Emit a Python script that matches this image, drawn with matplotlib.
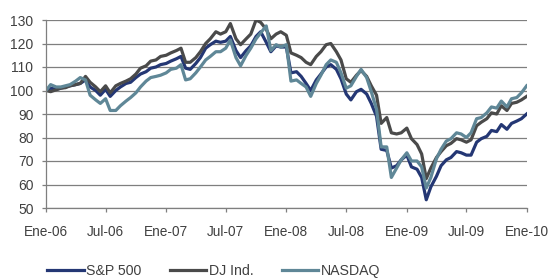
import matplotlib
matplotlib.use("Agg")
import matplotlib.pyplot as plt
import pandas as pd

# semi-monthly observation dates (1st and 15th), plus year end
dates = [f"{y}-{m:02d}-{d:02d}" for y in range(2006, 2010) for m in range(1, 13) for d in (1, 15)]
dates.append("2009-12-31")

sp500 = [
    # 2006
    100.0, 101.0, 100.5, 101.0, 101.5, 102.0, 102.5, 103.0, 104.5, 101.5, 100.0, 98.0,
    100.5, 97.5, 100.0, 101.5, 103.0, 103.5, 105.5, 107.0, 108.0, 109.5, 110.0, 111.0,
    # 2007
    111.5, 112.5, 113.5, 114.5, 109.5, 109.0, 111.5, 114.0, 118.0, 119.5, 121.0, 120.5,
    121.0, 123.0, 117.0, 114.0, 117.0, 119.0, 123.0, 125.0, 120.5, 116.5, 119.0, 118.5,
    # 2008
    118.5, 107.5, 108.0, 106.0, 103.0, 100.0, 104.5, 107.0, 110.0, 111.0, 109.0, 105.0,
    98.5, 96.0, 99.5, 100.5, 98.5, 94.5, 89.0, 75.0, 74.5, 67.0, 68.0, 70.5,
    # 2009
    72.5, 67.5, 66.5, 63.0, 53.5, 59.0, 63.5, 68.0, 70.5, 71.5, 74.0, 73.5,
    72.5, 72.5, 78.0, 79.5, 80.5, 83.0, 82.5, 85.5, 83.5, 86.0, 87.0, 88.0,
    90.0,
]

dj_ind = [
    # 2006
    100.0, 99.5, 100.3, 101.0, 101.2, 102.0, 102.5, 103.0, 106.0, 103.5, 101.5, 99.5,
    102.0, 99.0, 102.0, 103.0, 104.0, 105.0, 107.0, 109.5, 110.5, 112.5, 113.0, 114.5,
    # 2007
    115.0, 116.0, 117.0, 118.0, 112.0, 112.0, 114.0, 116.5, 120.0, 122.0, 125.0, 124.0,
    125.0, 128.5, 122.0, 119.5, 122.0, 124.0, 130.0, 129.0, 126.0, 122.0, 124.0, 125.0,
    # 2008
    123.5, 116.0, 115.0, 114.0, 112.0, 111.0, 114.5, 116.5, 119.5, 120.0, 116.5, 113.0,
    105.0, 103.5, 106.5, 108.5, 106.0, 102.0, 98.0, 86.0, 88.5, 82.0, 81.5, 82.0,
    # 2009
    84.0, 79.5, 77.0, 73.0, 62.5, 67.0, 71.5, 74.0, 76.5, 77.5, 79.5, 79.0,
    78.0, 79.0, 85.0, 86.5, 88.0, 90.5, 90.0, 93.5, 91.5, 94.5, 95.0, 96.0,
    97.5,
]

nasdaq = [
    # 2006
    100.0, 102.5, 101.5, 101.5, 102.0, 102.5, 104.0, 105.5, 104.5, 98.0, 96.0, 94.5,
    96.5, 91.5, 91.5, 93.5, 95.5, 97.0, 99.0, 101.5, 104.0, 105.5, 106.0, 106.5,
    # 2007
    107.5, 109.0, 109.5, 111.0, 104.5, 105.0, 107.5, 110.0, 113.0, 114.5, 116.5, 116.5,
    118.0, 121.5, 114.0, 110.5, 115.0, 118.0, 122.0, 124.5, 127.5, 117.0, 119.5, 118.5,
    # 2008
    119.5, 104.0, 104.5, 103.0, 101.5, 97.5, 103.0, 106.5, 111.0, 113.0, 112.0, 107.5,
    101.0, 102.0, 106.0, 109.0, 105.5, 99.5, 92.0, 76.0, 76.0, 63.0, 67.0, 70.5,
    # 2009
    73.5, 70.0, 70.0, 67.5, 58.5, 63.0, 71.0, 75.0, 78.5, 79.5, 82.0, 81.5,
    80.0, 82.0, 88.0, 88.5, 90.5, 93.0, 92.5, 95.5, 93.0, 96.5, 97.0, 99.0,
    102.0,
]

series_names = ["S&P 500", "DJ Ind.", "NASDAQ"]
series_colors = ["#243774", "#4a4a4a", "#5f8797"]
tick_labels = ["Ene-06", "Jul-06", "Ene-07", "Jul-07", "Ene-08", "Jul-08", "Ene-09", "Jul-09", "Ene-10"]
tick_dates = pd.to_datetime([f"{y}-{m:02d}-01" for y in range(2006, 2010) for m in (1, 7)] + ["2010-01-01"])

plt.rcParams["font.family"] = ["Liberation Sans", "DejaVu Sans"]

x = pd.to_datetime(dates)

fig = plt.figure(figsize=(5.52, 2.79), dpi=100)
ax = fig.add_axes([46 / 552, 1 - 208 / 279, 481 / 552, 188 / 279])

for vals, name, col in zip([sp500, dj_ind, nasdaq], series_names, series_colors):
    ax.plot(x, vals, color=col, linewidth=2.3, label=name, solid_joinstyle="round")

ax.set_xlim(pd.Timestamp("2006-01-01"), pd.Timestamp("2010-01-01"))
ax.set_ylim(50, 130)
ax.set_yticks(range(50, 131, 10))
ax.set_xticks(tick_dates)
ax.set_xticklabels(tick_labels)

ax.grid(axis="y", color="#7f7f7f", linewidth=0.9, zorder=0)
ax.set_axisbelow(True)
for side in ["top", "right"]:
    ax.spines[side].set_visible(False)
for side in ["left", "bottom"]:
    ax.spines[side].set_color("#7f7f7f")
    ax.spines[side].set_linewidth(0.9)

ax.tick_params(axis="y", length=3, width=0.9, color="#7f7f7f", labelsize=10, labelcolor="#404040", pad=6)
ax.tick_params(axis="x", length=3, width=0.9, color="#7f7f7f", labelsize=9.8, labelcolor="#404040", pad=9)

fig.legend(
    loc="center left",
    bbox_to_anchor=(40 / 552, 1 - 271 / 279),
    ncol=3,
    frameon=False,
    fontsize=10.2,
    handlelength=2.6,
    handletextpad=0.15,
    columnspacing=2.0,
    borderpad=0,
    labelcolor="#404040",
)

fig.savefig("out.png", dpi=100)
